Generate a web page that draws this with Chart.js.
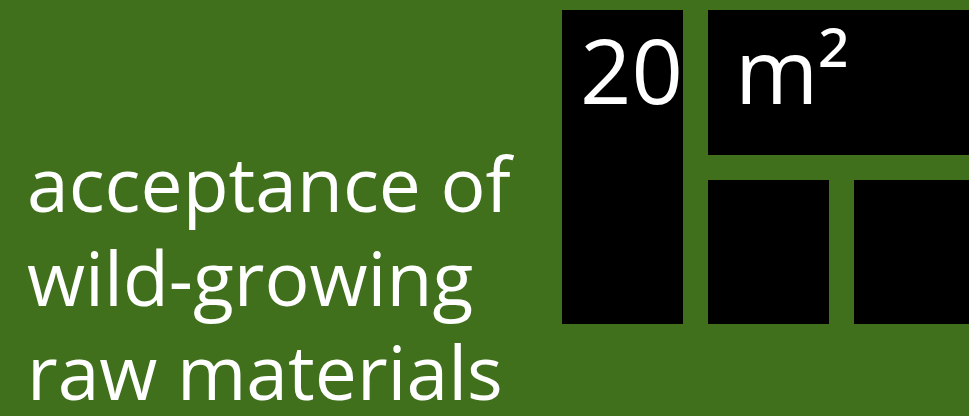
<!DOCTYPE html>
<html>
<head>
<meta charset="utf-8">
<script src="https://cdn.jsdelivr.net/npm/chart.js@4/dist/chart.umd.min.js"></script>
<style>
html,body{margin:0;padding:0;background:#41701c;overflow:hidden}
#wrap{position:relative;width:969px;height:416px}
#wrap canvas{position:absolute;left:0;top:0}
.lbl{position:absolute;color:#fff;font-family:"Open Sans",sans-serif;white-space:nowrap}
#title{left:27px;top:136px;font-size:75px;line-height:94px;font-weight:400}
#num{left:580px;top:24px;font-size:90px;line-height:90px}
#unit{left:735px;top:24px;font-size:90px;line-height:90px}
</style>
</head>
<body>
<div id="wrap">
<canvas id="chart" width="969" height="416"></canvas>
<div class="lbl" id="title">acceptance of<br>wild-growing<br>raw materials</div>
<div class="lbl" id="num">20</div>
<div class="lbl" id="unit">m²</div>
</div>
<script>
// blocks of the 20 m² plot, in plot units
const blocks = ["block A","block B","block C","block D"]
const blockLeft = [562,708,708,854]
const blockRight = [683,990,829,990]
const blockTop = [10,10,180,180]
const blockBottom = [324,155,324,324]

const datasets = blocks.map((b,i)=>({
label:b,
data:[
{x:blockLeft[i],y:blockTop[i]},
{x:blockRight[i],y:blockTop[i]},
{x:blockRight[i],y:blockBottom[i]},
{x:blockLeft[i],y:blockBottom[i]},
{x:blockLeft[i],y:blockTop[i]}
],
showLine:true,
fill:"shape",
backgroundColor:"#000",
borderColor:"#000",
borderWidth:0,
pointRadius:0,
tension:0
}))

new Chart(
document.getElementById("chart"),
{
type:"scatter",
data:{datasets:datasets},
options:{
responsive:false,
animation:false,
layout:{padding:0},
plugins:{legend:{display:false},tooltip:{enabled:false}},
scales:{
x:{type:"linear",min:0,max:969,display:false},
y:{type:"linear",min:0,max:416,reverse:true,display:false}
}
}
})
</script>
</body>
</html>
